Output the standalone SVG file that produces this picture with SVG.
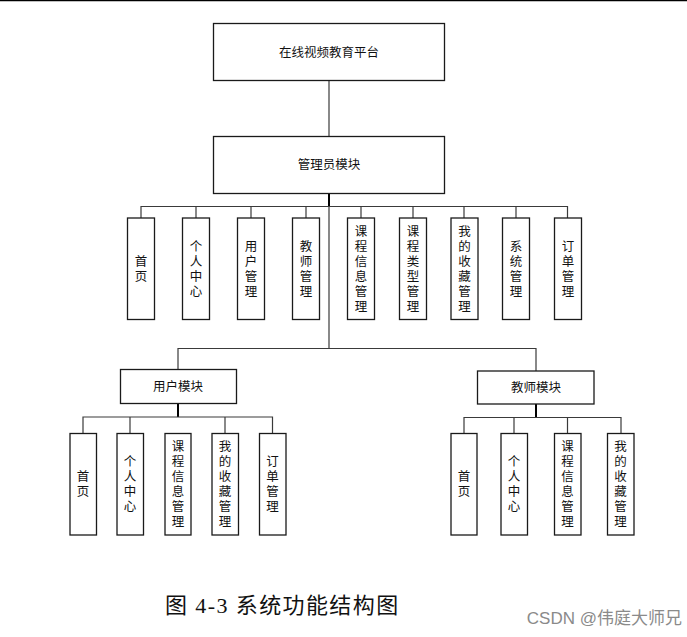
<svg xmlns="http://www.w3.org/2000/svg" width="687" height="637" viewBox="0 0 687 637">
<style>
.box{fill:#ffffff;stroke:#1a1a1a;stroke-width:1.3}
.t{font-family:"Liberation Sans","Noto Sans CJK SC",sans-serif;font-size:12.5px;fill:#111;text-anchor:middle}
.c{fill:none;stroke:#3a3a3a;stroke-width:1.2}
.cb{fill:none;stroke:#000;stroke-width:2}
</style>
<rect x="0" y="0" width="687" height="637" fill="#ffffff"/>
<line x1="0" y1="0.5" x2="687" y2="0.5" stroke="#000" stroke-width="1.5"/>
<g id="connectors">
<line class="c" x1="329" y1="80" x2="329" y2="136"/>
<line class="cb" x1="329" y1="193" x2="329" y2="207"/>
<line class="c" x1="329" y1="207" x2="329" y2="348"/>
<polyline class="c" points="141,218 141,206.5 567.5,206.5 567.5,218"/>
<line class="c" x1="196" y1="206.5" x2="196" y2="218"/>
<line class="c" x1="251" y1="206.5" x2="251" y2="218"/>
<line class="c" x1="306" y1="206.5" x2="306" y2="218"/>
<line class="c" x1="361" y1="206.5" x2="361" y2="218"/>
<line class="c" x1="413" y1="206.5" x2="413" y2="218"/>
<line class="c" x1="464" y1="206.5" x2="464" y2="218"/>
<line class="c" x1="516" y1="206.5" x2="516" y2="218"/>
<polyline class="c" points="178,369.5 178,348.5 536,348.5 536,371"/>
<line class="cb" x1="178" y1="403.5" x2="178" y2="417"/>
<polyline class="c" points="83,433.5 83,417 272.5,417 272.5,433.5"/>
<line class="c" x1="130" y1="417" x2="130" y2="433.5"/>
<line class="c" x1="225" y1="417" x2="225" y2="433.5"/>
<line class="cb" x1="536" y1="404" x2="536" y2="417.5"/>
<polyline class="c" points="464,433.5 464,417.5 621,417.5 621,433.5"/>
<line class="c" x1="514" y1="417.5" x2="514" y2="433.5"/>
<line class="c" x1="567.5" y1="417.5" x2="567.5" y2="433.5"/>
</g>
<g id="platform"><rect class="box" x="213.5" y="23.5" width="231" height="57"/><text class="t" x="329" y="57">在线视频教育平台</text></g>
<g id="admin"><rect class="box" x="213.5" y="136.5" width="231" height="57"/><text class="t" x="329" y="169">管理员模块</text></g>
<g id="a1"><rect class="box" x="127.5" y="218" width="27" height="101.5"/><text class="t" x="141" y="266">首</text><text class="t" x="141" y="281">页</text></g>
<g id="a2"><rect class="box" x="182.5" y="218" width="27" height="101.5"/><text class="t" x="196" y="251">个</text><text class="t" x="196" y="266">人</text><text class="t" x="196" y="281">中</text><text class="t" x="196" y="296">心</text></g>
<g id="a3"><rect class="box" x="237.5" y="218" width="27" height="101.5"/><text class="t" x="251" y="251">用</text><text class="t" x="251" y="266">户</text><text class="t" x="251" y="281">管</text><text class="t" x="251" y="296">理</text></g>
<g id="a4"><rect class="box" x="292.5" y="218" width="27" height="101.5"/><text class="t" x="306" y="251">教</text><text class="t" x="306" y="266">师</text><text class="t" x="306" y="281">管</text><text class="t" x="306" y="296">理</text></g>
<g id="a5"><rect class="box" x="347.5" y="218" width="27" height="101.5"/><text class="t" x="361" y="236">课</text><text class="t" x="361" y="251">程</text><text class="t" x="361" y="266">信</text><text class="t" x="361" y="281">息</text><text class="t" x="361" y="296">管</text><text class="t" x="361" y="311">理</text></g>
<g id="a6"><rect class="box" x="399.5" y="218" width="27" height="101.5"/><text class="t" x="413" y="236">课</text><text class="t" x="413" y="251">程</text><text class="t" x="413" y="266">类</text><text class="t" x="413" y="281">型</text><text class="t" x="413" y="296">管</text><text class="t" x="413" y="311">理</text></g>
<g id="a7"><rect class="box" x="451" y="218" width="27" height="101.5"/><text class="t" x="464.5" y="236">我</text><text class="t" x="464.5" y="251">的</text><text class="t" x="464.5" y="266">收</text><text class="t" x="464.5" y="281">藏</text><text class="t" x="464.5" y="296">管</text><text class="t" x="464.5" y="311">理</text></g>
<g id="a8"><rect class="box" x="502.5" y="218" width="27" height="101.5"/><text class="t" x="516" y="251">系</text><text class="t" x="516" y="266">统</text><text class="t" x="516" y="281">管</text><text class="t" x="516" y="296">理</text></g>
<g id="a9"><rect class="box" x="554.5" y="218" width="27" height="101.5"/><text class="t" x="568" y="251">订</text><text class="t" x="568" y="266">单</text><text class="t" x="568" y="281">管</text><text class="t" x="568" y="296">理</text></g>
<g id="user"><rect class="box" x="120.5" y="369.5" width="116" height="34"/><text class="t" x="178" y="391">用户模块</text></g>
<g id="u1"><rect class="box" x="70" y="433.5" width="26.5" height="101.5"/><text class="t" x="83" y="481">首</text><text class="t" x="83" y="496">页</text></g>
<g id="u2"><rect class="box" x="117" y="433.5" width="26.5" height="101.5"/><text class="t" x="130" y="466">个</text><text class="t" x="130" y="481">人</text><text class="t" x="130" y="496">中</text><text class="t" x="130" y="511">心</text></g>
<g id="u3"><rect class="box" x="165" y="433.5" width="26" height="101.5"/><text class="t" x="178" y="451">课</text><text class="t" x="178" y="466">程</text><text class="t" x="178" y="481">信</text><text class="t" x="178" y="496">息</text><text class="t" x="178" y="511">管</text><text class="t" x="178" y="526">理</text></g>
<g id="u4"><rect class="box" x="212" y="433.5" width="26.5" height="101.5"/><text class="t" x="225" y="451">我</text><text class="t" x="225" y="466">的</text><text class="t" x="225" y="481">收</text><text class="t" x="225" y="496">藏</text><text class="t" x="225" y="511">管</text><text class="t" x="225" y="526">理</text></g>
<g id="u5"><rect class="box" x="259.5" y="433.5" width="26.5" height="101.5"/><text class="t" x="272.5" y="466">订</text><text class="t" x="272.5" y="481">单</text><text class="t" x="272.5" y="496">管</text><text class="t" x="272.5" y="511">理</text></g>
<g id="teacher"><rect class="box" x="477.5" y="371" width="116.5" height="33"/><text class="t" x="536" y="392">教师模块</text></g>
<g id="t1"><rect class="box" x="451" y="433.5" width="26" height="101.5"/><text class="t" x="464" y="481">首</text><text class="t" x="464" y="496">页</text></g>
<g id="t2"><rect class="box" x="501" y="433.5" width="26.5" height="101.5"/><text class="t" x="514" y="466">个</text><text class="t" x="514" y="481">人</text><text class="t" x="514" y="496">中</text><text class="t" x="514" y="511">心</text></g>
<g id="t3"><rect class="box" x="554.5" y="433.5" width="26.5" height="101.5"/><text class="t" x="567.5" y="451">课</text><text class="t" x="567.5" y="466">程</text><text class="t" x="567.5" y="481">信</text><text class="t" x="567.5" y="496">息</text><text class="t" x="567.5" y="511">管</text><text class="t" x="567.5" y="526">理</text></g>
<g id="t4"><rect class="box" x="607.5" y="433.5" width="26.5" height="101.5"/><text class="t" x="620.5" y="451">我</text><text class="t" x="620.5" y="466">的</text><text class="t" x="620.5" y="481">收</text><text class="t" x="620.5" y="496">藏</text><text class="t" x="620.5" y="511">管</text><text class="t" x="620.5" y="526">理</text></g>
<text x="165" y="613" font-family="'Liberation Serif','Noto Sans CJK SC',serif" font-size="22" letter-spacing="1.4" fill="#111">图 4-3 系统功能结构图</text>
<text x="682" y="624" font-family="'Liberation Sans','Noto Sans CJK SC',sans-serif" font-size="17" fill="#8a8a8a" text-anchor="end">CSDN @伟庭大师兄</text>
</svg>
